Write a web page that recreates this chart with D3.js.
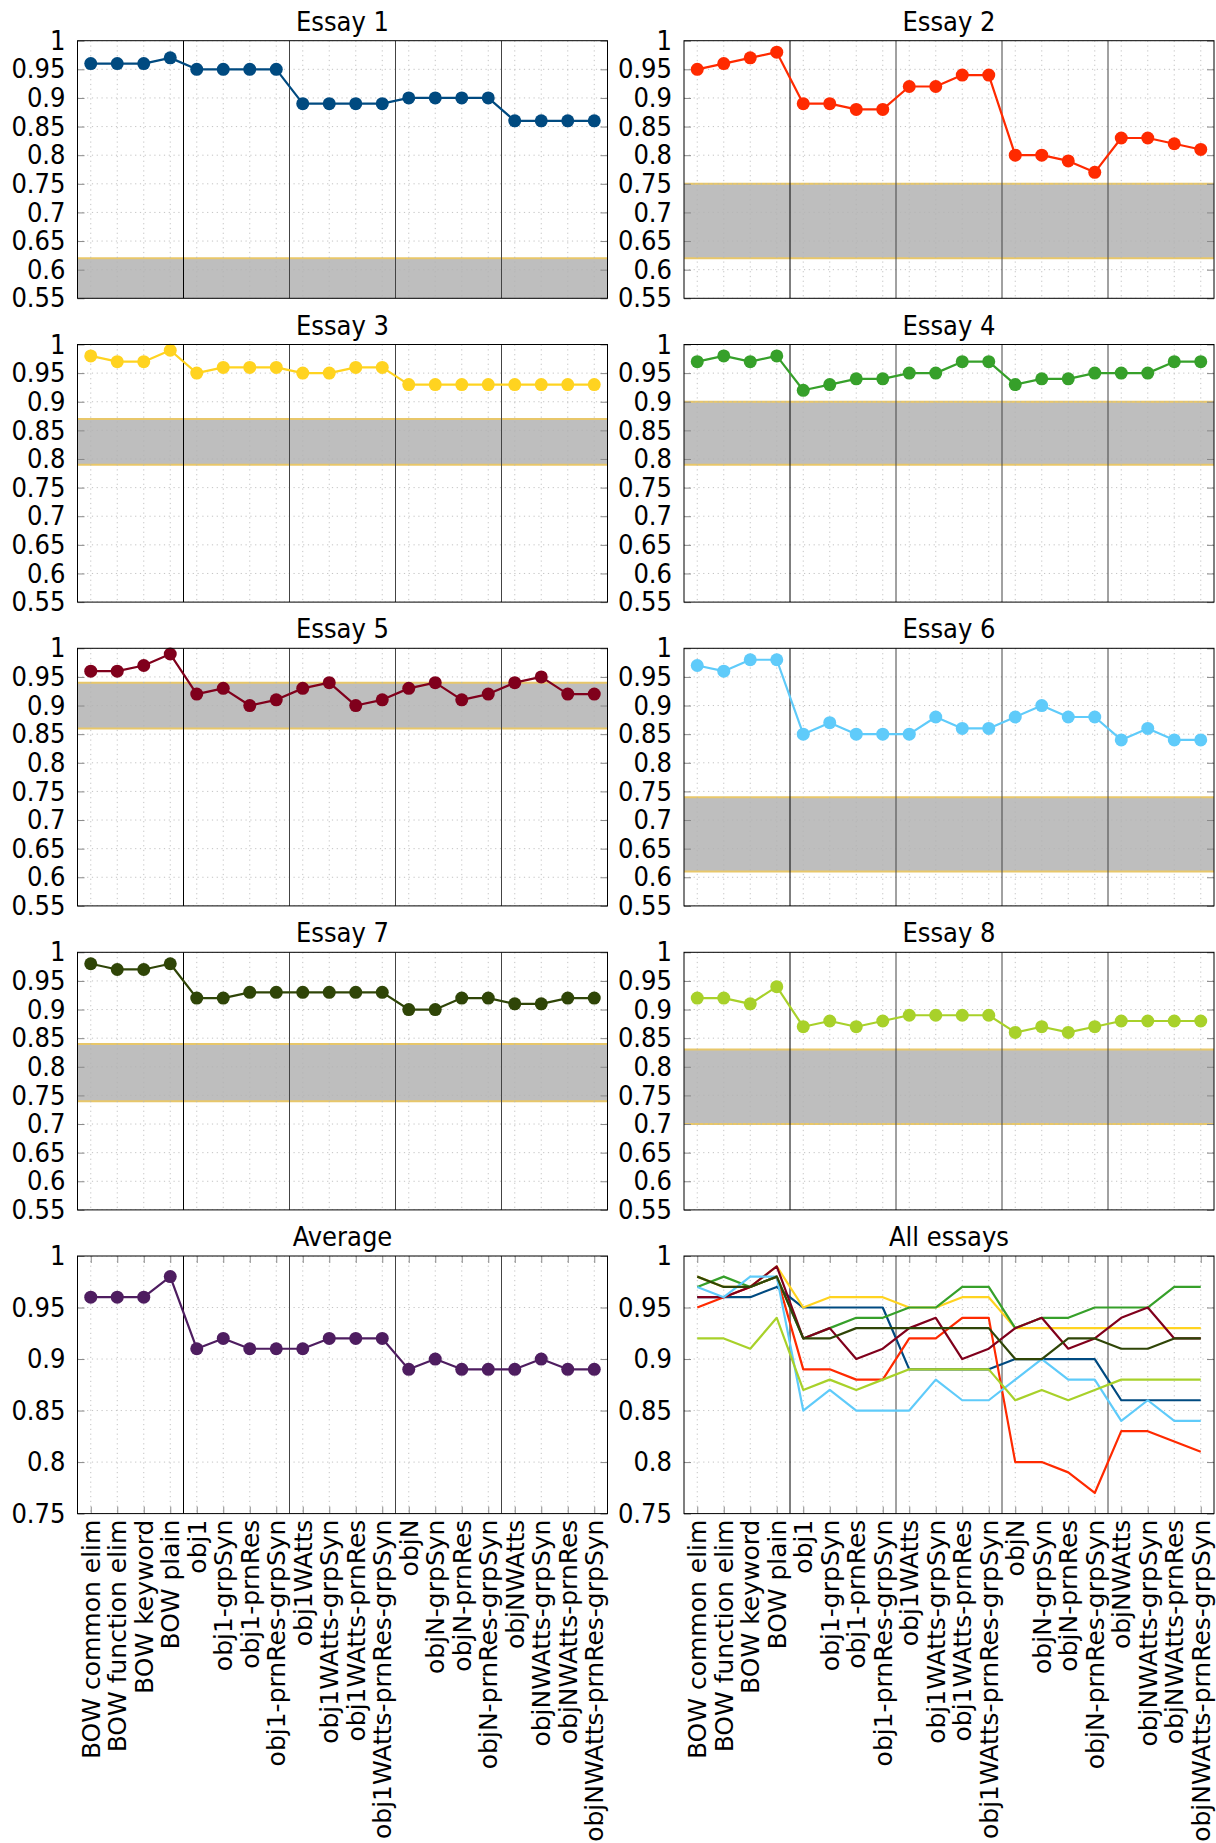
<!DOCTYPE html>
<html>
<head>
<meta charset="utf-8">
<script src="https://cdn.jsdelivr.net/npm/d3@7"></script>
<style>
  body { margin: 0; background: #fff; }
  .yaxis text { font-family: 'DejaVu Sans Condensed', 'DejaVu Sans', sans-serif; font-size: 27px; fill: #000; }
  .yaxis line, .xaxis line { stroke: #8a8a8a; stroke-width: 1; }
  .title { font-family: 'DejaVu Sans Condensed', 'DejaVu Sans', sans-serif; font-size: 27px; text-anchor: middle; }
  .xlab { font-family: 'DejaVu Sans', sans-serif; font-size: 25px; }
  .grid { stroke: #b4b4b4; stroke-width: 0.8; stroke-dasharray: 1.2 3.6; }
</style>
</head>
<body>
<svg id="chart"></svg>
<script>
// categories on the x axis (groups of four)
const categories = [
  'BOW common elim', 'BOW function elim', 'BOW keyword', 'BOW plain',
  'obj1', 'obj1-grpSyn', 'obj1-prnRes', 'obj1-prnRes-grpSyn',
  'obj1WAtts', 'obj1WAtts-grpSyn', 'obj1WAtts-prnRes', 'obj1WAtts-prnRes-grpSyn',
  'objN', 'objN-grpSyn', 'objN-prnRes', 'objN-prnRes-grpSyn',
  'objNWAtts', 'objNWAtts-grpSyn', 'objNWAtts-prnRes', 'objNWAtts-prnRes-grpSyn'
];

// series values
const essay1 = [0.96, 0.96, 0.96, 0.97, 0.95, 0.95, 0.95, 0.95, 0.89, 0.89, 0.89, 0.89, 0.90, 0.90, 0.90, 0.90, 0.86, 0.86, 0.86, 0.86];
const essay2 = [0.95, 0.96, 0.97, 0.98, 0.89, 0.89, 0.88, 0.88, 0.92, 0.92, 0.94, 0.94, 0.80, 0.80, 0.79, 0.77, 0.83, 0.83, 0.82, 0.81];
const essay3 = [0.98, 0.97, 0.97, 0.99, 0.95, 0.96, 0.96, 0.96, 0.95, 0.95, 0.96, 0.96, 0.93, 0.93, 0.93, 0.93, 0.93, 0.93, 0.93, 0.93];
const essay4 = [0.97, 0.98, 0.97, 0.98, 0.92, 0.93, 0.94, 0.94, 0.95, 0.95, 0.97, 0.97, 0.93, 0.94, 0.94, 0.95, 0.95, 0.95, 0.97, 0.97];
const essay5 = [0.96, 0.96, 0.97, 0.99, 0.92, 0.93, 0.90, 0.91, 0.93, 0.94, 0.90, 0.91, 0.93, 0.94, 0.91, 0.92, 0.94, 0.95, 0.92, 0.92];
const essay6 = [0.97, 0.96, 0.98, 0.98, 0.85, 0.87, 0.85, 0.85, 0.85, 0.88, 0.86, 0.86, 0.88, 0.90, 0.88, 0.88, 0.84, 0.86, 0.84, 0.84];
const essay7 = [0.98, 0.97, 0.97, 0.98, 0.92, 0.92, 0.93, 0.93, 0.93, 0.93, 0.93, 0.93, 0.90, 0.90, 0.92, 0.92, 0.91, 0.91, 0.92, 0.92];
const essay8 = [0.92, 0.92, 0.91, 0.94, 0.87, 0.88, 0.87, 0.88, 0.89, 0.89, 0.89, 0.89, 0.86, 0.87, 0.86, 0.87, 0.88, 0.88, 0.88, 0.88];
const average = [0.96, 0.96, 0.96, 0.98, 0.91, 0.92, 0.91, 0.91, 0.91, 0.92, 0.92, 0.92, 0.89, 0.90, 0.89, 0.89, 0.89, 0.90, 0.89, 0.89];

// gray reference bands per essay (low, high)
const bandLow  = [0.50, 0.62, 0.79, 0.79, 0.86, 0.61, 0.74, 0.70];
const bandHigh = [0.62, 0.75, 0.87, 0.90, 0.94, 0.74, 0.84, 0.83];

// tick labels
const essayTicks = [0.55, 0.6, 0.65, 0.7, 0.75, 0.8, 0.85, 0.9, 0.95, 1];
const summaryTicks = [0.75, 0.8, 0.85, 0.9, 0.95, 1];

const essays = [essay1, essay2, essay3, essay4, essay5, essay6, essay7, essay8];
const colors = ['#004a80', '#ff2a00', '#ffd320', '#36a02a', '#80001c', '#5fcbfa', '#2f4507', '#a8d12a'];
const avgColor = '#4e1d60';

// layout
const width = 1216, height = 1843;
const plotW = 530, plotH = 257.6;
const colX = [77.5, 684];
const rowY = [40.7, 344.5, 648.3, 952.3, 1256];

const svg = d3.select('#chart')
  .attr('width', width)
  .attr('height', height);

const panels = essays.map((s, i) => ({
  title: 'Essay ' + (i + 1),
  series: [s],
  colors: [colors[i]],
  band: [bandLow[i], bandHigh[i]],
  domain: [0.55, 1],
  ticks: essayTicks,
  markers: true,
  xlabels: false
}));
panels.push({ title: 'Average', series: [average], colors: [avgColor], band: null,
  domain: [0.75, 1], ticks: summaryTicks, markers: true, xlabels: true });
panels.push({ title: 'All essays', series: essays, colors: colors, band: null,
  domain: [0.75, 1], ticks: summaryTicks, markers: false, xlabels: true });

const fmt = d3.format('~g');

panels.forEach((p, k) => {
  const col = k % 2, row = Math.floor(k / 2);
  const g = svg.append('g').attr('transform', `translate(${colX[col]},${rowY[row]})`);

  const x = d3.scalePoint().domain(categories).range([0, plotW]).padding(0.5);
  const y = d3.scaleLinear().domain(p.domain).range([plotH, 0]);

  const clipId = 'clip' + k;
  g.append('clipPath').attr('id', clipId)
    .append('rect').attr('width', plotW).attr('height', plotH);
  const inner = g.append('g').attr('clip-path', `url(#${clipId})`);

  if (p.band) {
    inner.append('rect')
      .attr('x', 0)
      .attr('width', plotW)
      .attr('y', y(p.band[1]))
      .attr('height', y(p.band[0]) - y(p.band[1]))
      .attr('fill', '#bebebe');
    inner.selectAll('.edge')
      .data(p.band).enter()
      .append('line')
      .attr('x1', 0).attr('x2', plotW)
      .attr('y1', d => y(d)).attr('y2', d => y(d))
      .attr('stroke', '#e8c76a')
      .attr('stroke-width', 2);
  }

  // dotted grid
  inner.selectAll('.hgrid')
    .data(p.ticks).enter()
    .append('line')
    .attr('class', 'grid')
    .attr('x1', 0).attr('x2', plotW)
    .attr('y1', d => y(d)).attr('y2', d => y(d));
  inner.selectAll('.vgrid')
    .data(categories).enter()
    .append('line')
    .attr('class', 'grid')
    .attr('x1', d => x(d)).attr('x2', d => x(d))
    .attr('y1', 0).attr('y2', plotH);

  // group separators
  const seps = categories.filter((d, i) => i > 0 && i % 4 === 0);
  inner.selectAll('.sep')
    .data(seps).enter()
    .append('line')
    .attr('x1', d => x(d) - x.step() / 2)
    .attr('x2', d => x(d) - x.step() / 2)
    .attr('y1', 0).attr('y2', plotH)
    .attr('stroke', (d, i) => i === 0 ? '#000' : '#444')
    .attr('stroke-width', 1);

  // y axis: labels + inner ticks left, inner ticks right
  g.append('g')
    .attr('class', 'yaxis')
    .call(d3.axisLeft(y).tickValues(p.ticks).tickSize(-7).tickPadding(12).tickFormat(fmt))
    .call(a => a.select('.domain').remove());
  g.append('g')
    .attr('class', 'yaxis')
    .attr('transform', `translate(${plotW},0)`)
    .call(d3.axisRight(y).tickValues(p.ticks).tickSize(-7).tickFormat(''))
    .call(a => a.select('.domain').remove());

  if (p.xlabels) {
    g.append('g')
      .attr('class', 'xaxis')
      .attr('transform', `translate(0,${plotH})`)
      .call(d3.axisBottom(x).tickSize(-7).tickFormat(''))
      .call(a => a.select('.domain').remove());
    g.append('g')
      .attr('class', 'xaxis')
      .call(d3.axisTop(x).tickSize(-7).tickFormat(''))
      .call(a => a.select('.domain').remove());

    g.selectAll('.xlab')
      .data(categories).enter()
      .append('text')
      .attr('class', 'xlab')
      .attr('text-anchor', 'end')
      .attr('dy', '0.35em')
      .attr('transform', d => `translate(${x(d)},${plotH + 6}) rotate(-90)`)
      .text(d => d);
  }

  // series
  const line = d3.line()
    .x((d, i) => x(categories[i]))
    .y(d => y(d));

  p.series.forEach((s, j) => {
    inner.append('path')
      .datum(s)
      .attr('d', line)
      .attr('fill', 'none')
      .attr('stroke', p.colors[j])
      .attr('stroke-width', 2.2)
      .attr('stroke-linejoin', 'round');
    if (p.markers) {
      g.selectAll(null)
        .data(s).enter()
        .append('circle')
        .attr('cx', (d, i) => x(categories[i]))
        .attr('cy', d => y(d))
        .attr('r', 6.5)
        .attr('fill', p.colors[j]);
    }
  });

  // frame
  g.append('rect')
    .attr('width', plotW)
    .attr('height', plotH)
    .attr('fill', 'none')
    .attr('stroke', '#000')
    .attr('stroke-width', 1);

  g.append('text')
    .attr('class', 'title')
    .attr('x', plotW / 2)
    .attr('y', -10)
    .text(p.title);
});
</script>
</body>
</html>
